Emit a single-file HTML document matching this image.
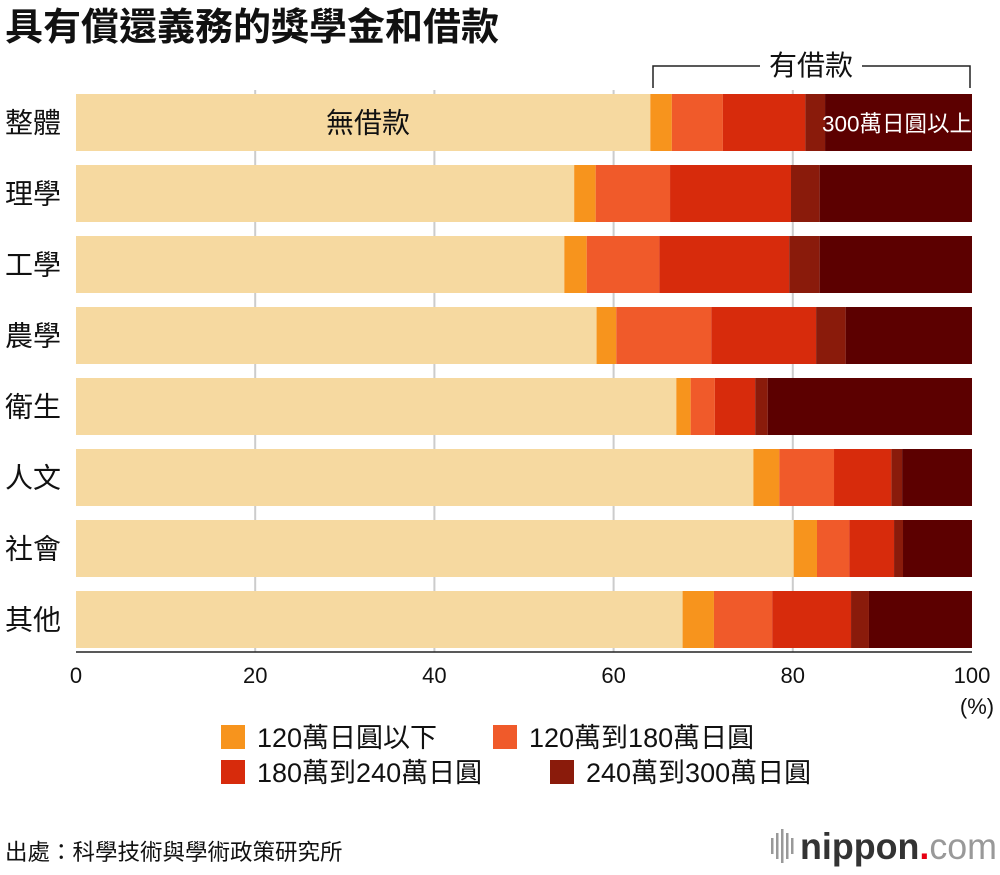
<!DOCTYPE html>
<html><head><meta charset="utf-8">
<style>
body{margin:0;background:#fff;font-family:"Liberation Sans","Noto Sans CJK TC",sans-serif;}
svg text{font-family:"Liberation Sans","Noto Sans CJK TC",sans-serif;}
</style></head>
<body>
<svg id="c" width="1000" height="870" xmlns="http://www.w3.org/2000/svg">
<text x="5" y="40" font-size="38" font-weight="bold" fill="#111">具有償還義務的獎學金和借款</text>
<g>
<path d="M653 88V66H760M862 66H970V88" stroke="#222" stroke-width="1.5" fill="none"/>
<text x="811" y="75" font-size="28" text-anchor="middle" fill="#111">有借款</text>
</g>
<g id="grid"></g>
<g id="bars"></g>
<g id="axis"></g>
<text x="977" y="714" font-size="22" text-anchor="middle" fill="#111">(%)</text>
<g id="legend"></g>
<text x="5" y="860" font-size="22.5" fill="#111">出處：科學技術與學術政策研究所</text>
<g>
<g fill="#999"><rect x="771" y="838" width="2.5" height="16"/><rect x="776" y="833" width="2.5" height="26"/><rect x="781" y="829" width="2.5" height="34"/><rect x="786" y="833" width="2.5" height="26"/><rect x="791" y="838" width="2.5" height="16"/></g>
<text x="800" y="859" font-size="37" font-weight="bold" fill="#333" textLength="197" lengthAdjust="spacingAndGlyphs">nippon<tspan fill="#e60012">.</tspan><tspan fill="#999" font-weight="normal">com</tspan></text>
</g>
</svg>
<script>
const categories=["整體","理學","工學","農學","衛生","人文","社會","其他"];
const noLoan=[64.1,55.6,54.5,58.1,67.0,75.6,80.1,67.7];
const upTo120=[2.4,2.4,2.5,2.2,1.6,2.9,2.6,3.5];
const s120to180=[5.7,8.3,8.1,10.6,2.7,6.1,3.6,6.5];
const s180to240=[9.2,13.5,14.5,11.7,4.5,6.4,5.0,8.8];
const s240to300=[2.2,3.2,3.4,3.3,1.4,1.2,1.0,2.0];
const over300=[16.4,17.0,17.0,14.1,22.8,7.8,7.7,11.5];
const xTicks=[0,20,40,60,80,100];
const seriesNames=["無借款","120萬日圓以下","120萬到180萬日圓","180萬到240萬日圓","240萬到300萬日圓","300萬日圓以上"];
const series=[noLoan,upTo120,s120to180,s180to240,s240to300,over300];
const colors=["#f6d9a0","#f7941d","#f05a2a","#d72b0c","#8a1b0b","#5c0000"];
const NS="http://www.w3.org/2000/svg";
const x0=76,x1=972,top0=94,step=71,bh=57;
const xs=v=>x0+(x1-x0)*v/100;
function mk(t,a,p){const e=document.createElementNS(NS,t);for(const k in a)e.setAttribute(k,a[k]);p.appendChild(e);return e;}
const grid=document.getElementById('grid'),bars=document.getElementById('bars'),axis=document.getElementById('axis'),legend=document.getElementById('legend');
xTicks.forEach(t=>{
 if(t>0&&t<100){const l=mk('line',{x1:xs(t),x2:xs(t),y1:90,y2:652,stroke:'#ccc','stroke-width':2},grid);
 
 }
 const tx=mk('text',{x:xs(t),y:683,'font-size':22,'text-anchor':'middle',fill:'#111'},axis);tx.textContent=t;
 
 
});
const al=mk('line',{x1:x0,x2:x1,y1:652,y2:652,stroke:'#222','stroke-width':1.5},axis);


categories.forEach((c,i)=>{
 const y=top0+i*step;
 const lab=mk('text',{x:5,y:y+bh/2+10,'font-size':28,fill:'#111'},axis);lab.textContent=c;
 
 
 let acc=0;
 series.forEach((s,j)=>{
  const r=mk('rect',{x:xs(acc),y:y,width:xs(acc+s[i])-xs(acc),height:bh,fill:colors[j]},bars);
  
  
  acc+=s[i];
 });
});
const t1=mk('text',{x:368,y:top0+bh/2+10,'font-size':28,'text-anchor':'middle',fill:'#111'},bars);t1.textContent="無借款";


const t2=mk('text',{x:897,y:top0+bh/2+9,'font-size':22.5,'text-anchor':'middle',fill:'#fff'},bars);t2.textContent="300萬日圓以上";


const lpos=[[221,725],[493,725],[221,760],[550,760]];
[1,2,3,4].forEach((j,k)=>{
 const [lx,ly]=lpos[k];
 const r=mk('rect',{x:lx,y:ly,width:24,height:24,fill:colors[j]},legend);
 
 
 const t=mk('text',{x:lx+36,y:ly+22,'font-size':27,fill:'#111'},legend);t.textContent=seriesNames[j];
 
 
});
</script>
</body></html>
